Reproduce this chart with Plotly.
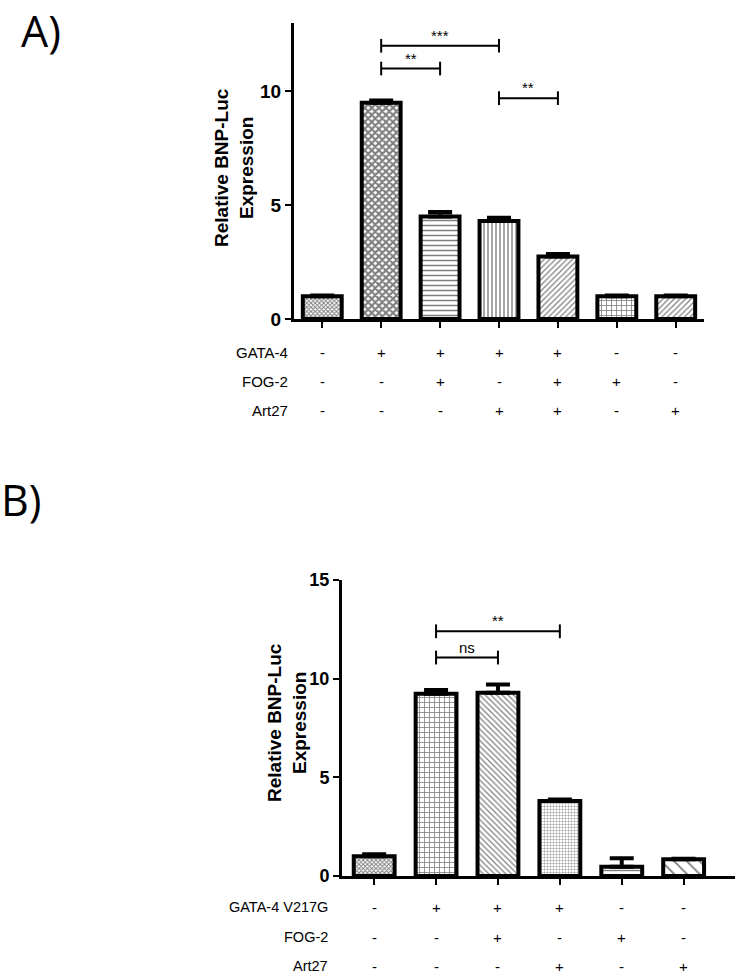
import plotly.graph_objects as go

# ---------------- data ----------------
a_values = [1.0, 9.5, 4.5, 4.3, 2.75, 1.0, 1.0]
a_errors = [0.03, 0.1, 0.2, 0.15, 0.1, 0.03, 0.03]
a_rows = ["GATA-4", "FOG-2", "Art27"]
a_table = [
    ["-", "+", "+", "+", "+", "-", "-"],
    ["-", "-", "+", "-", "+", "+", "-"],
    ["-", "-", "-", "+", "+", "-", "+"],
]
a_sig = [(1, 3, 12.0, "***"), (1, 2, 11.0, "**"), (3, 4, 9.7, "**")]

b_values = [1.0, 9.23, 9.28, 3.8, 0.47, 0.85]
b_errors = [0.1, 0.2, 0.42, 0.08, 0.43, 0.03]
b_rows = ["GATA-4 V217G", "FOG-2", "Art27"]
b_table = [
    ["-", "+", "+", "+", "-", "-"],
    ["-", "-", "+", "-", "+", "-"],
    ["-", "-", "-", "+", "-", "+"],
]
b_sig = [(1, 3, 12.4, "**"), (1, 2, 11.07, "ns")]

a_shapes = ["x", "x", "-", "|", "/", "+", "/"]
a_sizes = [3, 5, 5, 4, 4, 5, 4]
a_solid = [0.55, 0.65, 0.3, 0.35, 0.3, 0.3, 0.3]
b_shapes = ["x", "+", "\\", "+", "-", "\\"]
b_sizes = [3, 5, 4, 3, 7, 9]
b_solid = [0.55, 0.3, 0.3, 0.25, 0.2, 0.2]

W, H = 735, 977
FONT = "Liberation Sans, Arial, sans-serif"


def py(px):
    return 1 - px / H


fig = go.Figure()

fig.add_trace(go.Bar(
    x=list(range(len(a_values))), y=a_values, width=0.66,
    xaxis="x", yaxis="y",
    marker=dict(color="white", line=dict(color="black", width=4),
                pattern=dict(shape=a_shapes, size=a_sizes, solidity=a_solid,
                             fgcolor="black", bgcolor="white", fillmode="overlay")),
    error_y=dict(type="data", symmetric=False, array=a_errors,
                 arrayminus=[0] * len(a_values), color="black", thickness=4, width=12),
    showlegend=False, hoverinfo="skip",
))
fig.add_trace(go.Bar(
    x=list(range(len(b_values))), y=b_values, width=0.66,
    xaxis="x2", yaxis="y2",
    marker=dict(color="white", line=dict(color="black", width=4),
                pattern=dict(shape=b_shapes, size=b_sizes, solidity=b_solid,
                             fgcolor="black", bgcolor="white", fillmode="overlay")),
    error_y=dict(type="data", symmetric=False, array=b_errors,
                 arrayminus=[0] * len(b_values), color="black", thickness=4, width=12),
    showlegend=False, hoverinfo="skip",
))

shapes = []
annotations = []


def add_sig(sig, xref, yref, tick):
    for x0, x1, yv, label in sig:
        shapes.append(dict(type="line", xref=xref, yref=yref, x0=x0, x1=x1, y0=yv, y1=yv,
                           line=dict(color="black", width=2)))
        for xx in (x0, x1):
            shapes.append(dict(type="line", xref=xref, yref=yref, x0=xx, x1=xx,
                               y0=yv - tick, y1=yv + tick, line=dict(color="black", width=2)))
        annotations.append(dict(xref=xref, yref=yref, x=(x0 + x1) / 2, y=yv, text=label,
                                showarrow=False, yanchor="bottom", yshift=0,
                                font=dict(family=FONT, size=15, color="black")))


add_sig(a_sig, "x", "y", 0.3)
add_sig(b_sig, "x2", "y2", 0.35)

# table rows
a_row_y = [352, 381, 410]
for r, (lab, yy) in enumerate(zip(a_rows, a_row_y)):
    annotations.append(dict(xref="paper", yref="paper", x=290 / W, y=py(yy), text=lab,
                            xanchor="right", yanchor="middle", showarrow=False,
                            font=dict(family=FONT, size=15, color="black")))
    for i, s in enumerate(a_table[r]):
        annotations.append(dict(xref="x", yref="paper", x=i, y=py(yy), text=s,
                                xanchor="center", yanchor="middle", showarrow=False,
                                font=dict(family=FONT, size=15, color="black")))

b_row_y = [907, 937, 966]
for r, (lab, yy) in enumerate(zip(b_rows, b_row_y)):
    annotations.append(dict(xref="paper", yref="paper", x=330 / W, y=py(yy), text=lab,
                            xanchor="right", yanchor="middle", showarrow=False,
                            font=dict(family=FONT, size=14.5, color="black")))
    for i, s in enumerate(b_table[r]):
        annotations.append(dict(xref="x2", yref="paper", x=i, y=py(yy), text=s,
                                xanchor="center", yanchor="middle", showarrow=False,
                                font=dict(family=FONT, size=15, color="black")))

# y titles
annotations.append(dict(xref="paper", yref="paper", x=234 / W, y=py(168),
                        text="Relative BNP-Luc<br>Expression", textangle=-90,
                        showarrow=False, xanchor="center", yanchor="middle",
                        font=dict(family=FONT, size=19, color="black", weight="bold")))
annotations.append(dict(xref="paper", yref="paper", x=287 / W, y=py(723),
                        text="Relative BNP-Luc<br>Expression", textangle=-90,
                        showarrow=False, xanchor="center", yanchor="middle",
                        font=dict(family=FONT, size=19, color="black", weight="bold")))

# panel letters
annotations.append(dict(xref="paper", yref="paper", x=20 / W, y=1.0, text="A)",
                        showarrow=False, xanchor="left", yanchor="top", borderpad=0,
                        font=dict(family="Open Sans, DejaVu Sans, sans-serif", size=43, color="black")))
annotations.append(dict(xref="paper", yref="paper", x=0.0, y=py(469), text="B)",
                        showarrow=False, xanchor="left", yanchor="top", borderpad=0,
                        font=dict(family="Open Sans, DejaVu Sans, sans-serif", size=43, color="black")))

axis_common = dict(showline=True, linecolor="black", linewidth=3, showgrid=False,
                   zeroline=False, ticks="outside", ticklen=6, tickwidth=2, tickcolor="black")

fig.update_layout(
    width=W, height=H, margin=dict(l=0, r=0, t=0, b=0, autoexpand=False),
    paper_bgcolor="white", plot_bgcolor="white",
    xaxis=dict(domain=[294 / W, 704 / W], range=[-0.48, 6.48], anchor="y",
               tickvals=list(range(7)), showticklabels=False, **axis_common),
    yaxis=dict(domain=[py(319), py(23)], range=[0, 13], anchor="x",
               tickvals=[0, 5, 10], ticktext=["0", "5", "10"],
               tickfont=dict(family=FONT, size=19, color="black", weight="bold"), **axis_common),
    xaxis2=dict(domain=[342 / W, 1.0], range=[-0.52, 5.83], anchor="y2",
                tickvals=list(range(6)), showticklabels=False, **axis_common),
    yaxis2=dict(domain=[py(876), py(580)], range=[0, 15], anchor="x2",
                tickvals=[0, 5, 10, 15], ticktext=["0", "5", "10", "15"],
                tickfont=dict(family=FONT, size=18, color="black", weight="bold"), **axis_common),
    shapes=shapes, annotations=annotations,
)

fig.write_html("out.html", config={"displayModeBar": False},
               post_script="document.body.style.margin='0';document.body.style.overflow='hidden';")
